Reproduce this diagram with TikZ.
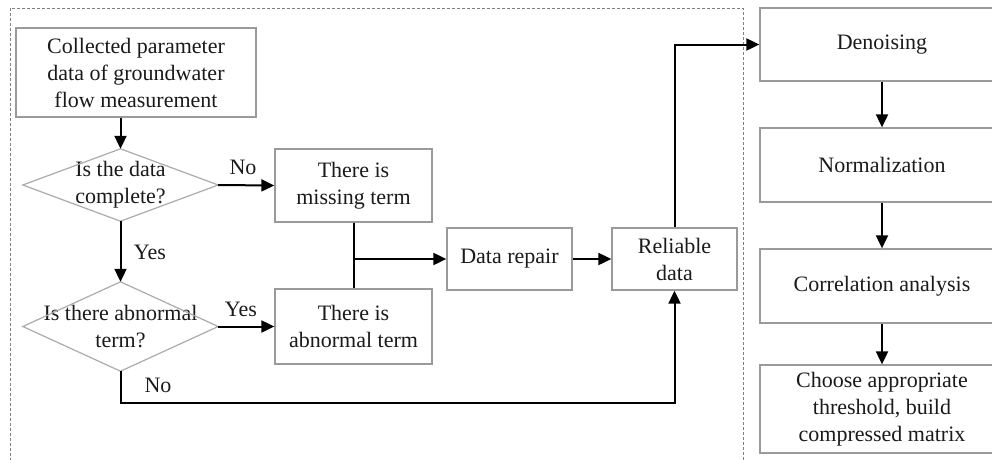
\documentclass[tikz,border=0pt]{standalone}
\usepackage{fontspec}
\setmainfont{Liberation Serif}
\usetikzlibrary{arrows.meta}
\definecolor{boxgray}{HTML}{9A9A9A}
\definecolor{diagray}{HTML}{ABABAB}
\definecolor{txt}{HTML}{1A1A1A}
\begin{document}
\begin{tikzpicture}[x=1pt,y=-1pt,
  every node/.style={font=\fontsize{22}{27}\selectfont, text=txt},
  box/.style={draw=boxgray, line width=1.3pt, align=center, inner sep=0pt},
  dia/.style={align=center, inner sep=0pt},
  lbl/.style={inner sep=0pt},
  conn/.style={line width=2pt, draw=black},
  arr/.style={conn, -{Triangle[length=13pt,width=12pt]}}]
\clip (0,0) rectangle (992,459);
\useasboundingbox (0,0) rectangle (992,459);
\draw[gray, line width=0.8pt, dash pattern=on 3pt off 2pt] (10,8) rectangle (743,480);

\node[box, minimum width=240, minimum height=89] (col) at (136,72.5) {Collected parameter\\data of groundwater\\flow measurement};
\node[dia, minimum width=195, minimum height=72] (d1) at (120.5,185) {Is the data\\complete?};
\draw[diagray, line width=1.2pt] (d1.north) -- (d1.east) -- (d1.south) -- (d1.west) -- cycle;
\node[dia, minimum width=195, minimum height=89] (d2) at (120.5,326.5) {Is there abnormal\\term?};
\draw[diagray, line width=1.2pt] (d2.north) -- (d2.east) -- (d2.south) -- (d2.west) -- cycle;

\node[box, minimum width=157, minimum height=73] (miss) at (353.5,185.5) {There is\\missing term};
\node[box, minimum width=157, minimum height=75] (abn) at (353.5,326.5) {There is\\abnormal term};
\node[box, minimum width=125, minimum height=62] (rep) at (509.5,259) {Data repair};
\node[box, minimum width=125, minimum height=62] (rel) at (674.5,259) {Reliable\\data};

\node[box, minimum width=244, minimum height=73] (den) at (882,44.5) {Denoising};
\node[box, minimum width=244, minimum height=74] (nor) at (882,165) {Normalization};
\node[box, minimum width=244, minimum height=74] (cor) at (882,286) {Correlation analysis};
\node[box, minimum width=244, minimum height=88] (cho) at (882,409) {Choose appropriate\\threshold, build\\compressed matrix};

\node[lbl] (lno1) at (243,167) {No};
\node[lbl] (lyes1) at (150,252) {Yes};
\node[lbl] (lyes2) at (241,309) {Yes};
\node[lbl] (lno2) at (158,385) {No};

\draw[arr] (d1.north |- col.south) -- (d1.north);
\draw[arr] (d1.east) -- (miss.west);
\draw[arr] (d1.south) -- (d2.north);
\draw[arr] (d2.east) -- (abn.west);
\draw[conn] (miss.south) -- (abn.north);
\draw[arr] (miss.south |- rep.west) -- (rep.west);
\draw[arr] (rep.east) -- (rel.west);
\coordinate (nobot) at ([yshift=-32pt]d2.south);
\draw[arr] (d2.south) -- (nobot) -| (rel.south);
\draw[arr] (rel.north) |- (den.west);
\draw[arr] (den.south) -- (nor.north);
\draw[arr] (nor.south) -- (cor.north);
\draw[arr] (cor.south) -- (cho.north);
\end{tikzpicture}
\end{document}
